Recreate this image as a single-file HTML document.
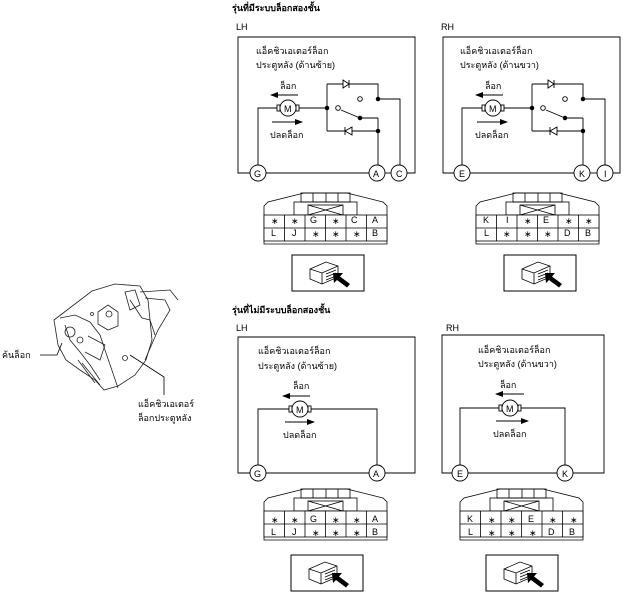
<!DOCTYPE html>
<html><head><meta charset="utf-8"><style>
html,body{margin:0;padding:0;background:#fff;}
svg{display:block;font-family:"Liberation Sans","Noto Sans CJK SC",sans-serif;}
text{font-size:9px;fill:#000;}
</style></head><body>
<svg width="627" height="596" viewBox="0 0 627 596" xmlns="http://www.w3.org/2000/svg">
<defs>
<marker id="ah" markerWidth="8" markerHeight="6" refX="7" refY="3" orient="auto"><path d="M0,0 L8,3 L0,6 z" fill="#000"/></marker>
<g id="conn" fill="none" stroke="#000" stroke-width="0.8">
<path d="M0,52 L0,14 L4,10 L40,1 L83,1 L119,10 L123,14 L123,52 Z"/>
<rect x="37" y="1" width="49" height="9"/>
<line x1="49" y1="1" x2="49" y2="10"/><line x1="62" y1="1" x2="62" y2="10"/><line x1="74" y1="1" x2="74" y2="10"/>
<rect x="30" y="10" width="63" height="13"/>
<rect x="44" y="13" width="35" height="10"/>
<path d="M44,13 L79,23 M79,13 L44,23"/>
<rect x="0" y="23" width="123" height="26" fill="#fff"/>
<line x1="0" y1="36" x2="123" y2="36"/>
<line x1="20.5" y1="23" x2="20.5" y2="49"/><line x1="41" y1="23" x2="41" y2="49"/><line x1="61.5" y1="23" x2="61.5" y2="49"/><line x1="82" y1="23" x2="82" y2="49"/><line x1="102.5" y1="23" x2="102.5" y2="49"/>
</g>
<g id="plug">
<rect x="0" y="0" width="72" height="36" fill="#fff" stroke="#000" stroke-width="1"/>
<path d="M18,14 L34,7 L46,11 L46,22 L30,29 L18,24 Z" fill="#fff" stroke="#000" stroke-width="0.8"/>
<path d="M18,14 L30,18 L46,11 M30,18 L30,29" fill="none" stroke="#000" stroke-width="0.8"/>
<path d="M34,19 L44,15 M34,22 L44,18 M34,25 L44,21" stroke="#000" stroke-width="0.7"/>
<path d="M41,18 L51,18 L48,21.5 L58,29 L55,32.5 L45,25 L42,28 Z" fill="#000"/>
</g>
<g id="sw" fill="none" stroke="#000" stroke-width="0.9">
<line x1="298" y1="108" x2="327" y2="108"/>
<path d="M327,84 L327,131"/>
<path d="M327,84 L378,84 L378,99 M378,99 L400,99 L400,165"/>
<path d="M327,131 L378,131 L378,118 M378,131 L378,165"/>
<path d="M360,118 L378,118"/>
<path d="M341,110 L360,118"/>
<path d="M349,80 L349,88 M343,80 L349,84 L343,88 Z" fill="#fff"/>
<path d="M345,127 L345,135 M352,127 L345,131 L352,135 Z" fill="#fff"/>
<circle cx="360" cy="99" r="2.3" fill="#fff"/>
<circle cx="338" cy="108" r="2.3" fill="#fff"/>
<circle cx="327" cy="108" r="1.8" fill="#000"/>
<circle cx="378" cy="99" r="1.8" fill="#000"/>
<circle cx="360" cy="118" r="1.8" fill="#000"/>
<circle cx="378" cy="131" r="1.8" fill="#000"/>
</g>
<g id="motor" fill="#fff" stroke="#000" stroke-width="0.9">
<rect x="-11" y="-3" width="3" height="6"/><rect x="8" y="-3" width="3" height="6"/>
<circle cx="0" cy="0" r="8"/>
</g>
</defs>

<!-- Titles -->
<text x="232" y="11" style="font-weight:bold">รุ่นที่มีระบบล็อกสองชั้น</text>
<text x="236" y="30">LH</text>
<text x="441" y="30">RH</text>
<text x="232" y="313" style="font-weight:bold">รุ่นที่ไม่มีระบบล็อกสองชั้น</text>
<text x="236" y="331">LH</text>
<text x="446" y="331">RH</text>

<!-- Top LH -->
<g fill="none" stroke="#000" stroke-width="0.9">
<path d="M250,173 L238,173 L238,37 L415,37 L415,173 L407,173"/>
<line x1="266" y1="173" x2="369" y2="173"/><line x1="385" y1="173" x2="391" y2="173"/>
<path d="M277,108 L258,108 L258,165"/>
</g>
<use href="#sw"/>
<use href="#motor" x="288" y="108"/>
<text x="284" y="112">M</text>
<text x="256" y="54">แอ็คชิวเอเตอร์ล็อก</text>
<text x="256" y="68">ประตูหลัง (ด้านซ้าย)</text>
<text x="280" y="89">ล็อก</text>
<line x1="298" y1="95" x2="271" y2="95" stroke="#000" marker-end="url(#ah)"/>
<line x1="272" y1="122" x2="302" y2="122" stroke="#000" marker-end="url(#ah)"/>
<text x="270" y="138">ปลดล็อก</text>
<g fill="#fff" stroke="#000" stroke-width="0.9"><circle cx="258" cy="173" r="8"/><circle cx="377" cy="173" r="8"/><circle cx="399" cy="173" r="8"/></g>
<text x="254" y="177">G</text><text x="373" y="177">A</text><text x="396" y="177">C</text>

<!-- Top RH -->
<g fill="none" stroke="#000" stroke-width="0.9">
<path d="M454,173 L443,173 L443,37 L620,37 L620,173 L613,173"/>
<line x1="470" y1="173" x2="574" y2="173"/><line x1="590" y1="173" x2="597" y2="173"/>
<path d="M482,108 L462,108 L462,165"/>
</g>
<use href="#sw" x="205"/>
<use href="#motor" x="493" y="108"/>
<text x="489" y="112">M</text>
<text x="460" y="54">แอ็คชิวเอเตอร์ล็อก</text>
<text x="460" y="68">ประตูหลัง (ด้านขวา)</text>
<text x="485" y="89">ล็อก</text>
<line x1="503" y1="95" x2="476" y2="95" stroke="#000" marker-end="url(#ah)"/>
<line x1="477" y1="122" x2="507" y2="122" stroke="#000" marker-end="url(#ah)"/>
<text x="475" y="138">ปลดล็อก</text>
<g fill="#fff" stroke="#000" stroke-width="0.9"><circle cx="462" cy="173" r="8"/><circle cx="582" cy="173" r="8"/><circle cx="605" cy="173" r="8"/></g>
<text x="459" y="177">E</text><text x="579" y="177">K</text><text x="604" y="177">I</text>

<!-- Top connectors -->
<use href="#conn" x="264" y="192"/>
<g style="font-size:8px">
<text x="271" y="224">∗</text><text x="291" y="224">∗</text><text x="310" y="223">G</text><text x="332" y="224">∗</text><text x="351" y="223">C</text><text x="372" y="223">A</text>
<text x="271" y="236">L</text><text x="292" y="236">J</text><text x="312" y="237">∗</text><text x="332" y="237">∗</text><text x="353" y="237">∗</text><text x="372" y="236">B</text>
</g>
<use href="#plug" x="292" y="255"/>

<use href="#conn" x="476" y="192"/>
<g style="font-size:8px">
<text x="483" y="223">K</text><text x="506" y="223">I</text><text x="524" y="224">∗</text><text x="543" y="223">E</text><text x="565" y="224">∗</text><text x="585" y="224">∗</text>
<text x="484" y="236">L</text><text x="503" y="237">∗</text><text x="524" y="237">∗</text><text x="544" y="237">∗</text><text x="564" y="236">D</text><text x="585" y="236">B</text>
</g>
<use href="#plug" x="504" y="255"/>

<!-- Bottom LH -->
<g fill="none" stroke="#000" stroke-width="0.9">
<path d="M250,473 L238,473 L238,337 L415,337 L415,473 L385,473"/>
<line x1="266" y1="473" x2="369" y2="473"/>
<path d="M289,409 L258,409 L258,465 M311,409 L377,409 L377,465"/>
</g>
<use href="#motor" x="300" y="409"/>
<text x="296" y="413">M</text>
<text x="258" y="354">แอ็คชิวเอเตอร์ล็อก</text>
<text x="258" y="369">ประตูหลัง (ด้านซ้าย)</text>
<text x="293" y="389">ล็อก</text>
<line x1="310" y1="396" x2="283" y2="396" stroke="#000" marker-end="url(#ah)"/>
<line x1="285" y1="422" x2="314" y2="422" stroke="#000" marker-end="url(#ah)"/>
<text x="283" y="438">ปลดล็อก</text>
<g fill="#fff" stroke="#000" stroke-width="0.9"><circle cx="258" cy="473" r="8"/><circle cx="377" cy="473" r="8"/></g>
<text x="254" y="477">G</text><text x="373" y="477">A</text>

<!-- Bottom RH -->
<g fill="none" stroke="#000" stroke-width="0.9">
<path d="M452,473 L442,473 L442,335 L604,335 L604,473 L573,473"/>
<line x1="468" y1="473" x2="557" y2="473"/>
<path d="M499,408 L460,408 L460,465 M521,408 L565,408 L565,465"/>
</g>
<use href="#motor" x="510" y="408"/>
<text x="506" y="412">M</text>
<text x="478" y="353">แอ็คชิวเอเตอร์ล็อก</text>
<text x="478" y="367">ประตูหลัง (ด้านขวา)</text>
<text x="500" y="388">ล็อก</text>
<line x1="524" y1="394" x2="496" y2="394" stroke="#000" marker-end="url(#ah)"/>
<line x1="496" y1="421" x2="528" y2="421" stroke="#000" marker-end="url(#ah)"/>
<text x="493" y="437">ปลดล็อก</text>
<g fill="#fff" stroke="#000" stroke-width="0.9"><circle cx="460" cy="473" r="8"/><circle cx="565" cy="473" r="8"/></g>
<text x="457" y="477">E</text><text x="562" y="477">K</text>

<!-- Bottom connectors -->
<use href="#conn" x="264" y="488"/>
<g style="font-size:8px">
<text x="271" y="523">∗</text><text x="291" y="523">∗</text><text x="310" y="522">G</text><text x="332" y="523">∗</text><text x="353" y="523">∗</text><text x="372" y="522">A</text>
<text x="271" y="535">L</text><text x="292" y="535">J</text><text x="312" y="536">∗</text><text x="332" y="536">∗</text><text x="353" y="536">∗</text><text x="372" y="535">B</text>
</g>
<use href="#plug" x="291" y="555"/>

<use href="#conn" x="460" y="488"/>
<g style="font-size:8px">
<text x="467" y="522">K</text><text x="488" y="523">∗</text><text x="508" y="523">∗</text><text x="528" y="522">E</text><text x="549" y="523">∗</text><text x="570" y="523">∗</text>
<text x="468" y="535">L</text><text x="488" y="536">∗</text><text x="508" y="536">∗</text><text x="529" y="536">∗</text><text x="548" y="535">D</text><text x="569" y="535">B</text>
</g>
<use href="#plug" x="486" y="555"/>

<!-- Left illustration -->
<g fill="none" stroke="#222" stroke-width="0.8">
<path d="M54,320 L92,291 L115,284 L140,286 L148,300 L152,340 L146,360 L135,375 L118,386 L104,390 L95,380 L80,370 L66,360 L58,345 Z"/>
<path d="M60,318 L75,315 L90,322 L100,335 L105,350 L118,388"/>
<path d="M65,325 L70,340 L80,352 L90,365 L100,380"/>
<circle cx="70" cy="332" r="5"/><circle cx="80" cy="340" r="3"/>
<path d="M98,312 L108,305 L118,312 L118,326 L108,330 L98,324 Z"/>
<circle cx="109" cy="314" r="3"/>
<path d="M125,292 L135,290 L140,305 L130,310 Z"/>
<path d="M130,300 L142,318 L150,320 L155,335"/>
<path d="M140,292 L170,290 L178,300 M145,298 L165,300 L170,310 L158,330 L145,360"/>
<path d="M88,336 L105,345 L100,360 L85,352"/>
<path d="M78,360 L95,383 M82,363 L100,385"/>
<circle cx="125" cy="358" r="2.5"/><circle cx="92" cy="314" r="1.5"/>
<path d="M40,355 L57,355 L62,343" stroke="#000"/>
<path d="M130,355 L164,377 L164,395" stroke="#000"/>
</g>
<text x="2" y="358">ค้นล็อก</text>
<text x="138" y="407">แอ็คชิวเอเตอร์</text>
<text x="138" y="421">ล็อกประตูหลัง</text>
</svg>
</body></html>
